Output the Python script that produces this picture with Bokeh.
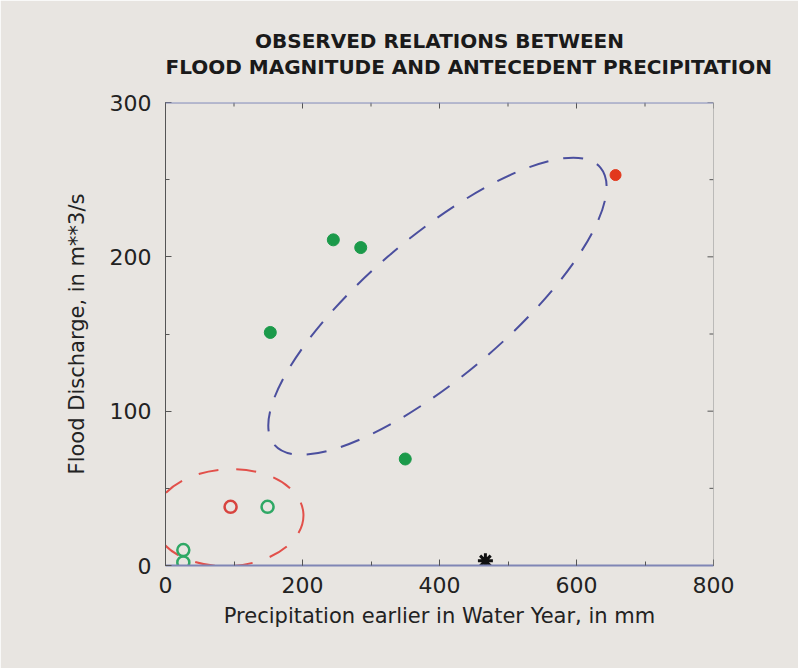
from bokeh.plotting import figure
from bokeh.models import LinearAxis, SingleIntervalTicker, Title, Range1d, Span
from bokeh.embed import file_html
from bokeh.resources import INLINE

# ---- data ----
green_filled_x = [245, 285, 153, 350]
green_filled_y = [211, 206, 151, 69]
red_filled_x = [657]
red_filled_y = [253]
red_open_x = [95]
red_open_y = [38]
green_open_x = [149, 26, 26]
green_open_y = [38, 10, 2]
star_x = [467]
star_y = [3]

# hand-drawn groupings (centres in data units)
blue_ell_x = [397]
blue_ell_y = [168]
red_ell_x = [92]
red_ell_y = [31]

title_lines = ["OBSERVED RELATIONS BETWEEN",
               "FLOOD MAGNITUDE AND ANTECEDENT PRECIPITATION"]

x_min, x_max = 0, 800
y_min, y_max = 0, 300
x_major = [0, 200, 400, 600, 800]
x_minor = [100, 300, 500, 700]
y_major = [0, 100, 200, 300]
y_minor = [50, 150, 250]

BG = "#e8e5e1"
FONT = "DejaVu Sans"

p = figure(width=798, height=668, x_range=Range1d(x_min, x_max), y_range=Range1d(y_min, y_max),
           output_backend="svg", toolbar_location=None,
           min_border_left=165, min_border_right=85, min_border_top=102, min_border_bottom=103,
           background_fill_color=BG, border_fill_color=BG, x_axis_type=None, y_axis_type=None)
p.title.visible = False
p.xgrid.visible = False
p.ygrid.visible = False
p.outline_line_color = None

def style_axis(ax, color="#555555", width=1):
    ax.axis_line_color = color
    ax.axis_line_width = width
    ax.major_tick_in = 6
    ax.major_tick_out = 0
    ax.minor_tick_in = 4
    ax.minor_tick_out = 0
    ax.major_tick_line_color = "#555555"
    ax.minor_tick_line_color = "#555555"
    ax.major_label_text_font = FONT
    ax.major_label_text_font_size = "22px"
    ax.major_label_text_color = "#222222"
    ax.axis_label_text_font = FONT
    ax.axis_label_text_font_size = "21px"
    ax.axis_label_text_font_style = "normal"
    ax.axis_label_text_color = "#222222"

xb = LinearAxis(ticker=SingleIntervalTicker(interval=200, num_minor_ticks=2),
                axis_label="Precipitation earlier in Water Year, in mm")
style_axis(xb, color="#7f86b5", width=2)
xb.major_label_standoff = 11
xb.axis_label_standoff = 8
p.add_layout(xb, "below")

yl = LinearAxis(ticker=SingleIntervalTicker(interval=100, num_minor_ticks=2),
                axis_label="Flood Discharge, in m**3/s")
style_axis(yl)
yl.major_label_standoff = 14
yl.axis_label_standoff = 18
p.add_layout(yl, "left")

# top and right frame lines with inward ticks
p.add_layout(Span(location=y_max, dimension="width", line_color="#7f86b5", line_width=2))
p.add_layout(Span(location=x_max, dimension="height", line_color="#888888", line_width=1))
dy_major = 6 / (463 / (y_max - y_min))
dy_minor = 4 / (463 / (y_max - y_min))
dx_major = 6 / (548 / (x_max - x_min))
dx_minor = 4 / (548 / (x_max - x_min))
p.segment(x0=x_major, y0=[y_max] * len(x_major), x1=x_major, y1=[y_max - dy_major] * len(x_major),
          line_color="#555555", line_width=1)
p.segment(x0=x_minor, y0=[y_max] * len(x_minor), x1=x_minor, y1=[y_max - dy_minor] * len(x_minor),
          line_color="#555555", line_width=1)
p.segment(x0=[x_max] * len(y_major), y0=y_major, x1=[x_max - dx_major] * len(y_major), y1=y_major,
          line_color="#555555", line_width=1)
p.segment(x0=[x_max] * len(y_minor), y0=y_minor, x1=[x_max - dx_minor] * len(y_minor), y1=y_minor,
          line_color="#555555", line_width=1)

# second title line; the trailing empty line leaves the gap above the frame
t2 = Title(text=title_lines[1] + "\n", align="left", offset=0,
           text_font=FONT, text_font_size="20px", text_font_style="bold", text_color="#1a1a1a",
           standoff=0)
p.add_layout(t2, "above")
t1 = Title(text=title_lines[0], align="center",
           text_font=FONT, text_font_size="20px", text_font_style="bold", text_color="#1a1a1a",
           standoff=0)
p.add_layout(t1, "above")

# grouping ellipses
p.ellipse(x=blue_ell_x, y=blue_ell_y, width=428, height=140, angle=0.705,
          width_units="screen", height_units="screen",
          fill_color=None, line_color="#4b4f9e", line_width=2, line_dash="20 15")
p.ellipse(x=red_ell_x, y=red_ell_y, width=150, height=97, angle=0.05,
          width_units="screen", height_units="screen",
          fill_color=None, line_color="#e2504a", line_width=2, line_dash="20 18")

# points
p.scatter(green_filled_x, green_filled_y, size=12, marker="circle",
          fill_color="#1b9a4a", line_color="#1b9a4a")
p.scatter(red_filled_x, red_filled_y, size=11, marker="circle",
          fill_color="#e2381c", line_color="#e2381c")
p.scatter(red_open_x, red_open_y, size=12, marker="circle",
          fill_color=None, line_color="#d8443f", line_width=2.5)
p.scatter(green_open_x, green_open_y, size=12, marker="circle",
          fill_color=None, line_color="#2fa865", line_width=2.5)
p.scatter(star_x, star_y, size=15, marker="asterisk",
          line_color="#111111", line_width=3)

open("out.html", "w").write(file_html(p, INLINE))
